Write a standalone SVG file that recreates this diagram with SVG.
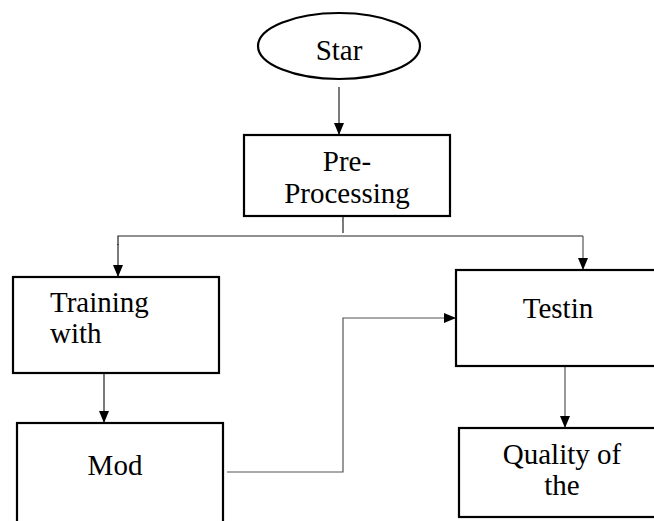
<svg xmlns="http://www.w3.org/2000/svg" width="654" height="521" viewBox="0 0 654 521">
  <style>
    .box { fill: #ffffff; stroke: #000000; stroke-width: 2.2; }
    .lbl { font-family: "Liberation Serif", "Times New Roman", serif; font-size: 29px; fill: #000000; }
    .mid { text-anchor: middle; }
    .conn { fill: none; stroke: #222222; stroke-width: 1.2; }
    .grey { stroke: #555555; }
  </style>
  <defs>
    <marker id="arrow" markerUnits="userSpaceOnUse" markerWidth="12" markerHeight="10" refX="12" refY="5" orient="auto">
      <path d="M0,0 L12,5 L0,10 z" fill="#000000"/>
    </marker>
  </defs>
  <rect x="0" y="0" width="654" height="521" fill="#ffffff"/>

  <g id="connectors">
    <line class="conn" x1="339" y1="87" x2="339" y2="135" marker-end="url(#arrow)"/>
    <line class="conn" x1="343" y1="216" x2="343" y2="233"/>
    <polyline class="conn" points="118,245 118,236 583,236"/>
    <line class="conn" x1="118" y1="244" x2="118" y2="277" marker-end="url(#arrow)"/>
    <line class="conn grey" x1="583" y1="236" x2="583" y2="270" marker-end="url(#arrow)"/>
    <line class="conn" x1="104" y1="373" x2="104" y2="423" marker-end="url(#arrow)"/>
    <polyline class="conn grey" points="227,472 343,472 343,318 456,318" marker-end="url(#arrow)"/>
    <line class="conn grey" x1="565" y1="366" x2="565" y2="428" marker-end="url(#arrow)"/>
  </g>

  <g id="start">
    <ellipse class="box" cx="339" cy="46" rx="81" ry="33"/>
    <text class="lbl mid" x="339" y="60">Star</text>
  </g>

  <g id="preprocessing">
    <rect class="box" x="244" y="135" width="206" height="81"/>
    <text class="lbl mid" x="347" y="171">Pre-</text>
    <text class="lbl mid" x="347" y="203">Processing</text>
  </g>

  <g id="training">
    <rect class="box" x="13" y="277" width="206" height="96"/>
    <text class="lbl" x="50" y="312">Training</text>
    <text class="lbl" x="50" y="343">with</text>
  </g>

  <g id="model">
    <rect class="box" x="17" y="423" width="206" height="110"/>
    <text class="lbl mid" x="115" y="475">Mod</text>
  </g>

  <g id="testing">
    <rect class="box" x="456" y="270" width="210" height="96"/>
    <text class="lbl mid" x="558" y="318">Testin</text>
  </g>

  <g id="quality">
    <rect class="box" x="459" y="428" width="210" height="89"/>
    <text class="lbl mid" x="562" y="464">Quality of</text>
    <text class="lbl mid" x="562" y="495">the</text>
  </g>
</svg>
